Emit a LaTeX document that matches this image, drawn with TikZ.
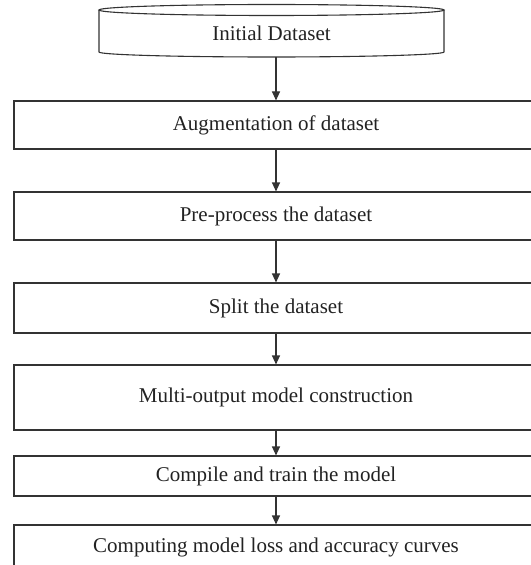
\documentclass[tikz,border=0pt]{standalone}
\usepackage{fontspec}
\setmainfont{Liberation Serif}
\usetikzlibrary{arrows.meta}
\definecolor{lc}{HTML}{333333}
\definecolor{tc}{HTML}{222222}
\begin{document}
\begin{tikzpicture}[x=1bp,y=1bp,
  ln/.style={draw=lc, line width=1.1bp},
  stepbox/.style={ln, rectangle, minimum width=524bp, inner sep=0pt, text=tc,
    font=\fontsize{21bp}{25bp}\selectfont},
  lbl/.style={inner sep=0pt, text=tc, font=\fontsize{21bp}{25bp}\selectfont},
  arr/.style={ln, -{Triangle[width=8bp,length=9bp]}}]
\useasboundingbox (0,0) rectangle (531,-565);
\clip (0,0) rectangle (531,-565);
% cylinder
\draw[ln] (271.5,-10) ellipse [x radius=172.5, y radius=5.5];
\draw[ln] (99,-10) -- (99,-52) arc[start angle=180, end angle=360, x radius=172.5, y radius=5] -- (444,-10);
\node[lbl] (ds) at (271.5,-33) {Initial Dataset};
% boxes
\node[stepbox, minimum height=48bp] (b1) at (276,-125) {Augmentation of dataset};
\node[stepbox, minimum height=48bp] (b2) at (276,-216) {Pre-process the dataset};
\node[stepbox, minimum height=50bp] (b3) at (276,-308) {Split the dataset};
\node[stepbox, minimum height=65bp] (b4) at (276,-397.5) {Multi-output model construction};
\node[stepbox, minimum height=40bp] (b5) at (276,-476) {Compile and train the model};
\node[stepbox, minimum height=45bp] (b6) at (276,-547.5) {Computing model loss and accuracy curves};
% connectors
\coordinate (a0) at (276,-57);
\draw[arr] (a0) -- (b1.north);
\draw[arr] (b1) -- (b2);
\draw[arr] (b2) -- (b3);
\draw[arr] (b3) -- (b4);
\draw[arr] (b4) -- (b5);
\draw[arr] (b5) -- (b6);
\end{tikzpicture}
\end{document}
